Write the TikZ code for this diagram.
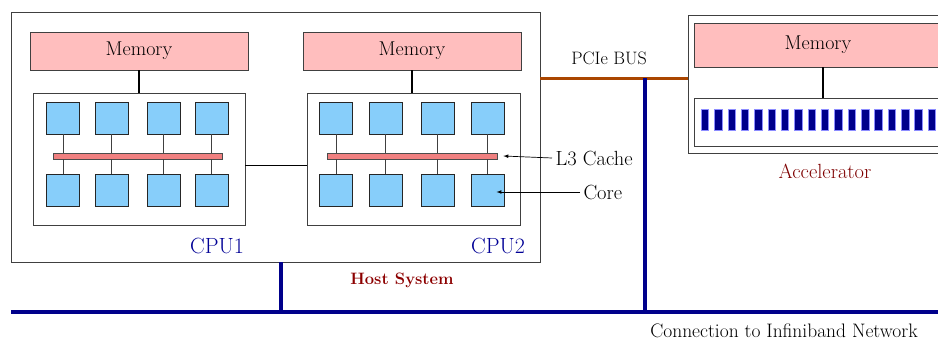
\documentclass[tikz,border=0pt]{standalone}
\usepackage{tikz}
\definecolor{memfill}{RGB}{255,190,190}
\definecolor{corefill}{RGB}{135,206,250}
\definecolor{cachefill}{RGB}{240,128,128}
\definecolor{ibblue}{RGB}{0,0,139}
\definecolor{pciebrown}{RGB}{170,70,0}
\definecolor{cpublue}{RGB}{0,0,150}
\definecolor{hostred}{RGB}{140,0,0}

\begin{document}
\begin{tikzpicture}[x=1pt, y=-1pt,
    box/.style={draw=black!75, fill=white, line width=0.9pt, inner sep=0pt},
    memory/.style={box, fill=memfill, font=\fontsize{20}{23}\selectfont},
    core/.style={draw=black!85, fill=corefill, line width=0.9pt, minimum width=33pt, minimum height=32pt, inner sep=0pt},
    cache/.style={draw=black!70, fill=cachefill, line width=0.8pt, minimum height=6pt, inner sep=0pt},
    tie/.style={draw=black!75, line width=0.8pt},
    lbl/.style={font=\fontsize{20.5}{23}\selectfont},
    ib/.style={ibblue, line width=3.5pt},
    >=latex]
    \path[use as bounding box, clip] (0,0) rectangle (938,340);

    % Host system
    \node[box, minimum width=529pt, minimum height=250pt] (host) at (275.5,137) {};
    \node[font=\fontsize{16.5}{20}\selectfont\bfseries, text=hostred] (hostlab) at (402,280) {Host System};

    % CPU1
    \node[memory, minimum width=218pt, minimum height=38pt] (mem1) at (139,51) {Memory};
    \node[box, minimum width=212pt, minimum height=132pt] (cpu1) at (139,159) {};
    \draw[tie, line width=1.2pt, black] (mem1.south) -- (mem1.south |- cpu1.north);
    \node[cache, minimum width=169pt] (bar1) at (137.5,156) {};
    \foreach \i/\x in {1/63, 2/111.5, 3/163.5, 4/211.5} {
        \node[core] (c1t\i) at (\x,118) {};
        \node[core] (c1b\i) at (\x,190.5) {};
        \draw[tie] (c1t\i.south) -- (bar1.north -| c1t\i);
        \draw[tie] (bar1.south -| c1b\i) -- (c1b\i.north);
    }
    \node[font=\fontsize{22}{25}\selectfont, text=cpublue] (cpu1lab) at (217,246) {CPU1};

    % CPU2
    \node[memory, minimum width=218pt, minimum height=38pt] (mem2) at (412,51) {Memory};
    \node[box, minimum width=213pt, minimum height=132pt] (cpu2) at (413.5,159) {};
    \draw[tie, line width=1.2pt, black] (mem2.south) -- (mem2.south |- cpu2.north);
    \node[cache, minimum width=170pt] (bar2) at (412,156) {};
    \foreach \i/\x in {1/336, 2/385.5, 3/437.5, 4/487.5} {
        \node[core] (c2t\i) at (\x,118) {};
        \node[core] (c2b\i) at (\x,190.5) {};
        \draw[tie] (c2t\i.south) -- (bar2.north -| c2t\i);
        \draw[tie] (bar2.south -| c2b\i) -- (c2b\i.north);
    }
    \node[font=\fontsize{22}{25}\selectfont, text=cpublue] (cpu2lab) at (498,246) {CPU2};

    % CPU link
    \draw[line width=1.2pt] ([yshift=-6.5pt]cpu1.east) -- ([yshift=-6.5pt]cpu2.west);

    % Labels with arrows
    \node[lbl, anchor=west] (l3lab) at (552,158) {L3 Cache};
    \draw[->, line width=0.7pt] (l3lab.west) -- ([xshift=6pt]bar2.east);
    \node[lbl, anchor=west] (corelab) at (580,192) {Core};
    \draw[->, line width=0.7pt, shorten >=9pt] (corelab.west) -- (c2b4.center |- corelab.west);

    % Accelerator
    \node[box, minimum width=272pt, minimum height=138pt] (acc) at (824,84) {};
    \node[memory, minimum width=258pt, minimum height=44pt] (mem3) at (823,45) {\hspace*{-10pt}Memory};
    \node[box, minimum width=258pt, minimum height=48pt] (accin) at (823,122) {};
    \draw[tie, line width=1.2pt, black] (mem3.south) -- (mem3.south |- accin.north);
    \foreach \k in {0,...,18}
        \fill[ibblue, draw=blue!45, line width=0.4pt] ({701+13.35*\k},109) rectangle ++(7.5,21);
    \node[lbl, text=hostred!90!black] (acclab) at (825,171) {Accelerator};

    % PCIe bus
    \coordinate (pcieJ) at (645,78);
    \draw[pciebrown, line width=3pt] (host.east |- pcieJ) -- (acc.west |- pcieJ);
    \node[font=\fontsize{18}{21}\selectfont] (pcielab) at (609,58) {PCIe BUS};

    % Infiniband network
    \coordinate (netW) at (11,312);
    \coordinate (netE) at (945,312);
    \coordinate (tapA) at (281,312);
    \draw[ib] (netW) -- (netE);
    \draw[ib] (host.south -| tapA) -- (tapA);
    \draw[ib] (pcieJ) -- (pcieJ |- tapA);
    \node[font=\fontsize{19.5}{22}\selectfont, inner sep=0pt] (netlab) at (784,331) {Connection to Infiniband Network};
\end{tikzpicture}
\end{document}
